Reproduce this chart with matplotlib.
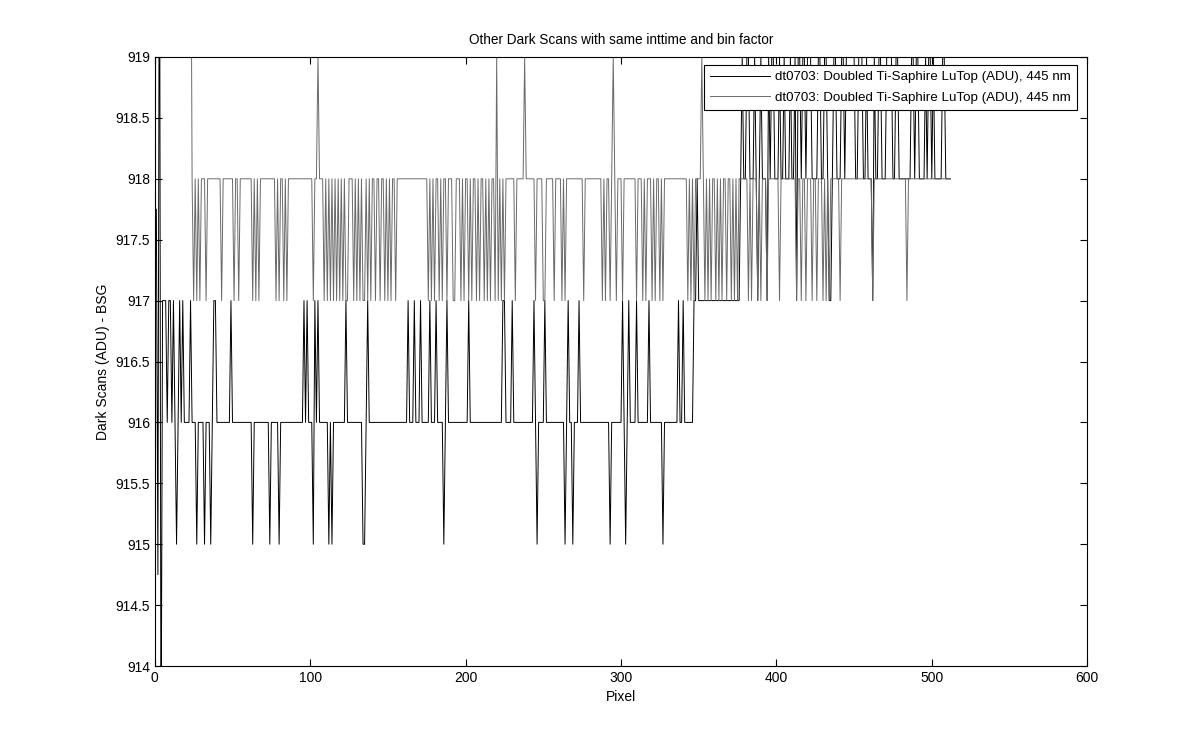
import matplotlib
matplotlib.use("Agg")
import matplotlib.pyplot as plt
import numpy as np
from matplotlib.ticker import FormatStrFormatter, MultipleLocator

# dark scan values, one character per pixel, blocks of 10 pixels
# digit d -> 910 + d ADU; letters are the off-grid values at the edges
levels = {"a": 917.75, "b": 914.75, "h": 921.0, "l": 913.0}

black_codes = (
    "abhl777677 6765676766 6676665666 6566656776 6666666676 "
    "6666666666 6656666666 6665666665 6666666666 6666676766 "
    "6576766666 6565666666 6676666666 6665567666 6666666666 "
    "6666666666 6676667666 7666667666 7666656766 6666666666 "
    "6766666666 6666666666 6667766667 6666666666 6667656666 "
    "7666666666 6665676656 6676666666 6666666666 6656666666 "
    "7656766667 6666666766 6666665666 6666667667 6666667787 "
    "7777777777 7777777777 7777778988 9988898789 8887989988 "
    "8988988898 8979989989 9988889988 9987789988 8998999999 "
    "8899988988 8798899888 9999889988 8888889989 9888898998 "
    "9888889988 88"
)

gray_codes = (
    "hhhhhhhhhh hhhhhhhhhh hhh8787878 8878888888 8878888888 "
    "7887888888 8878787888 8888888787 8878788888 8888888888 "
    "8788988878 7878787878 7877888787 8787787878 8788788787 "
    "8788788888 8888888888 8888878787 8878788788 8778887878 "
    "8787887878 8787878879 7878788888 8788888988 8888788887 "
    "7888887888 8787888888 8888878888 8888888787 8878987888 "
    "7888888887 8887878887 8788787888 8888888888 8878787888 "
    "8987878788 7878788788 7878788888 8787888787 8887888888 "
    "8788888888 8878878878 8878878887 8787888888 7888888888 "
    "8888888888 8788888888 8888888888 8887888888 8888888888 "
    "8888888888 88"
)

legend_label = "dt0703: Doubled Ti-Saphire LuTop (ADU), 445 nm"


def decode(codes):
    vals = []
    for c in codes.replace(" ", ""):
        vals.append(levels[c] if c in levels else 910.0 + int(c))
    return np.array(vals)


black = decode(black_codes)
gray = decode(gray_codes)
pixel = np.arange(1, len(black) + 1)

plt.rcParams['font.family'] = ['Liberation Sans', 'DejaVu Sans']
plt.rcParams['font.size'] = 10

fig = plt.figure(figsize=(12, 7.5), dpi=100)
ax = fig.add_axes([0.129, 0.112, 0.777, 0.812])

ax.plot(pixel, black, color='black', lw=0.7, label=legend_label)
ax.plot(pixel, gray, color='#6a6a6a', lw=0.7, label=legend_label)

ax.set_xlim(0, 600)
ax.set_ylim(914, 919)
ax.xaxis.set_major_locator(MultipleLocator(100))
ax.yaxis.set_major_locator(MultipleLocator(0.5))
ax.yaxis.set_major_formatter(FormatStrFormatter('%g'))
ax.tick_params(direction='in', top=True, right=True, length=5, width=0.8)
for s in ax.spines.values():
    s.set_linewidth(0.8)

ax.set_title("Other Dark Scans with same inttime and bin factor", pad=9, fontsize=9.8)
ax.set_xlabel("Pixel")
ax.set_ylabel("Dark Scans (ADU) - BSG")

leg = ax.legend(loc='upper right', bbox_to_anchor=(0.989, 0.987), borderaxespad=0,
                fancybox=False, framealpha=1, edgecolor='black', fontsize=9.6,
                handlelength=4.5, borderpad=0.45, labelspacing=0.6, handletextpad=0.4)
leg.get_frame().set_linewidth(0.8)

fig.savefig("out.png", dpi=100)
